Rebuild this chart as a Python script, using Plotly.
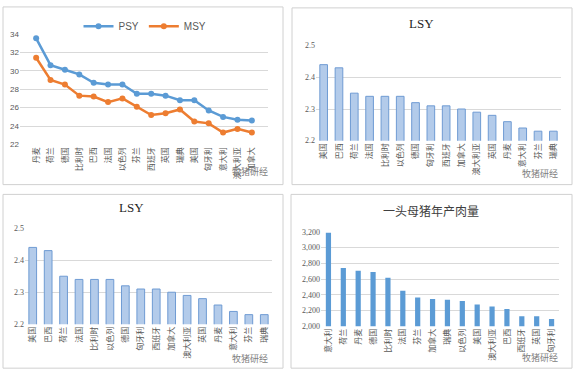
import plotly.graph_objects as go

# Panel 1: PSY / MSY
countries_yield = ["丹麦", "荷兰", "德国", "比利时", "巴西", "法国", "以色列", "芬兰",
                   "西班牙", "英国", "瑞典", "美国", "匈牙利", "意大利", "澳大利亚", "加拿大"]
psy = [33.5, 30.6, 30.1, 29.6, 28.7, 28.5, 28.5, 27.5, 27.5, 27.3, 26.8, 26.8, 25.7, 25.0, 24.7, 24.6]
msy = [31.4, 29.0, 28.5, 27.3, 27.2, 26.6, 27.0, 26.1, 25.2, 25.4, 25.8, 24.5, 24.3, 23.3, 23.7, 23.3]

# Panels 2 & 3: LSY
countries_lsy = ["美国", "巴西", "荷兰", "法国", "比利时", "以色列", "德国", "匈牙利",
                 "西班牙", "加拿大", "澳大利亚", "英国", "丹麦", "意大利", "芬兰", "瑞典"]
lsy = [2.44, 2.43, 2.35, 2.34, 2.34, 2.34, 2.32, 2.31, 2.31, 2.30, 2.29, 2.28, 2.26, 2.24, 2.23, 2.23]

# Panel 4: meat per sow per year
countries_meat = ["意大利", "荷兰", "丹麦", "德国", "比利时", "法国", "芬兰", "加拿大",
                  "瑞典", "以色列", "美国", "澳大利亚", "巴西", "西班牙", "英国", "匈牙利"]
meat = [3190, 2740, 2705, 2690, 2615, 2450, 2365, 2345, 2335, 2320, 2275, 2250, 2220, 2125, 2125, 2090]

W, H = 579, 380
def px(x):
    return x / W
def py(y):
    return 1 - y / H

fig = go.Figure()

grid = "#d9d9d9"
tickc = "#595959"
cat_font = dict(family="Noto Sans CJK SC", size=8, color=tickc)

fig.add_trace(go.Scatter(x=countries_yield, y=psy, name="PSY", mode="lines+markers",
                         line=dict(color="#5b9bd5", width=2.5),
                         marker=dict(size=6, color="#5b9bd5"), xaxis="x", yaxis="y"))
fig.add_trace(go.Scatter(x=countries_yield, y=msy, name="MSY", mode="lines+markers",
                         line=dict(color="#ed7d31", width=2.5),
                         marker=dict(size=6, color="#ed7d31"), xaxis="x", yaxis="y"))

for xa, ya in (("x2", "y2"), ("x3", "y3")):
    fig.add_trace(go.Bar(x=countries_lsy, y=lsy, width=0.5, showlegend=False,
                         marker=dict(color="#b3cbea", line=dict(color="#6f9bd3", width=1)),
                         xaxis=xa, yaxis=ya))

fig.add_trace(go.Bar(x=countries_meat, y=meat, width=0.35, showlegend=False,
                     marker=dict(color="#5b9bd5", line=dict(width=0)),
                     xaxis="x4", yaxis="y4"))

def xax(domain, anchor):
    return dict(domain=domain, anchor=anchor, tickangle=-90, tickfont=cat_font,
                showgrid=False, showline=False, ticks="", fixedrange=True)

def yax(domain, anchor, rng, dtick, fam, fmt=None):
    d = dict(domain=domain, anchor=anchor, range=rng, dtick=dtick, showgrid=True,
             gridcolor=grid, gridwidth=1, zeroline=False, showline=False, ticks="",
             tickfont=dict(family=fam, size=8, color=tickc), fixedrange=True)
    if fmt:
        d["tickformat"] = fmt
    return d

fig.update_layout(
    width=W, height=H, margin=dict(l=0, r=0, t=0, b=0),
    paper_bgcolor="white", plot_bgcolor="white",
    xaxis=xax([px(20), px(268)], "y"),
    yaxis=yax([py(144), py(30)], "x", [22, 34.05], 2, "Liberation Sans"),
    xaxis2=xax([px(316), px(561)], "y2"),
    yaxis2=yax([py(140), py(42)], "x2", [2.2, 2.502], 0.1, "Liberation Serif", ".1f"),
    xaxis3=xax([px(25), px(272)], "y3"),
    yaxis3=yax([py(328), py(229)], "x3", [2.2, 2.502], 0.1, "Liberation Serif", ".1f"),
    xaxis4=xax([px(321), px(559)], "y4"),
    yaxis4=yax([py(330), py(233)], "x4", [2000, 3205], 200, "Liberation Serif", ",d"),
    legend=dict(orientation="h", x=px(145), y=py(8), xanchor="center", yanchor="top",
                font=dict(family="Liberation Sans", size=10, color=tickc),
                itemwidth=30, bgcolor="rgba(0,0,0,0)"),
    bargap=0.5,
)

# panel frames
for x0, y0, x1, y1 in [(3, 3, 283, 185), (292, 4, 572, 185), (3, 195, 283, 373), (291, 195, 572, 373)]:
    fig.add_shape(type="rect", xref="paper", yref="paper",
                  x0=px(x0), x1=px(x1), y0=py(y1), y1=py(y0),
                  line=dict(color="#d0d0d0", width=1), fillcolor="rgba(0,0,0,0)")

# titles
fig.add_annotation(text="LSY", x=px(421), y=py(20), xref="paper", yref="paper",
                   xanchor="center", yanchor="middle", showarrow=False,
                   font=dict(family="Liberation Serif", size=13, color="#262626"))
fig.add_annotation(text="LSY", x=px(131), y=py(208), xref="paper", yref="paper",
                   xanchor="center", yanchor="middle", showarrow=False,
                   font=dict(family="Liberation Serif", size=13, color="#262626"))
fig.add_annotation(text="一头母猪年产肉量", x=px(431), y=py(211), xref="paper", yref="paper",
                   xanchor="center", yanchor="middle", showarrow=False,
                   font=dict(family="Noto Sans CJK SC", size=12, color="#404040"))

# watermarks
for wx, wy in [(250, 172), (540, 174), (250, 363), (540, 362)]:
    fig.add_annotation(text="牧猪研经", x=px(wx), y=py(wy), xref="paper", yref="paper",
                       xanchor="center", yanchor="middle", showarrow=False,
                       font=dict(family="Noto Sans CJK SC", size=9, color="#808080"))

fig.write_html("out.html", config={"displayModeBar": False},
               post_script="document.body.style.margin='0';document.body.style.overflow='hidden';")
